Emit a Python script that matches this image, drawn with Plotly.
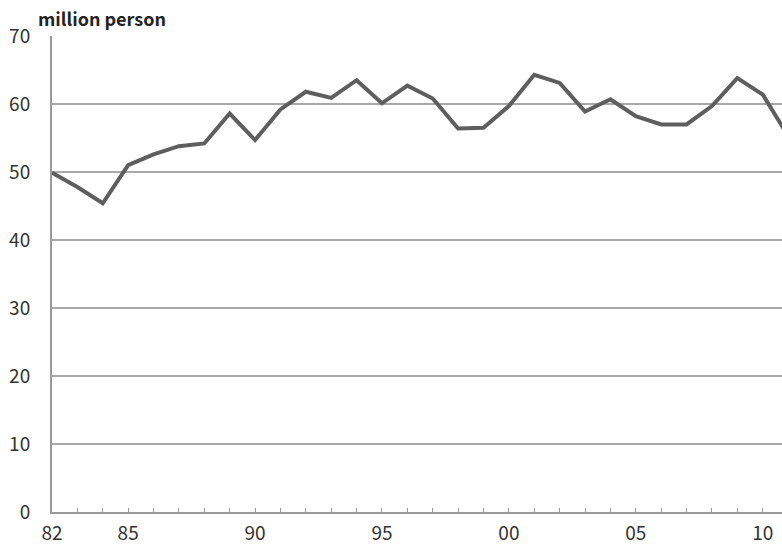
import plotly.graph_objects as go

years = list(range(1982, 2012))
values = [49.9, 47.8, 45.4, 51.0, 52.6, 53.8, 54.2, 58.6, 54.7, 59.2,
          61.8, 60.9, 63.5, 60.1, 62.7, 60.8, 56.4, 56.5, 59.7, 64.3,
          63.1, 58.9, 60.7, 58.2, 57.0, 57.0, 59.7, 63.8, 61.4, 55.3]
tick_years = [1982, 1985, 1990, 1995, 2000, 2005, 2010]
tick_labels = ["82", "85", "90", "95", "00", "05", "10"]
y_ticks = [0, 10, 20, 30, 40, 50, 60, 70]

font_family = "Noto Sans CJK JP, Noto Sans, sans-serif"

fig = go.Figure()
fig.add_trace(go.Scatter(
    x=years, y=values, mode="lines",
    line=dict(color="#5e5e5e", width=4),
    hoverinfo="skip",
))

fig.update_layout(
    width=782, height=545,
    margin=dict(l=52, r=0, t=36, b=33, autoexpand=False),
    paper_bgcolor="white", plot_bgcolor="white",
    showlegend=False,
    font=dict(family=font_family, color="#333333", size=19),
    title=dict(text="million person", x=38/782, xanchor="left",
               xref="container", y=1-20/545, yanchor="middle", yref="container",
               font=dict(family=font_family, size=18, color="#222222", weight=600)),
    xaxis=dict(
        range=[1982, 2010.76], automargin=False,
        tickvals=tick_years, ticktext=tick_labels,
        ticks="inside", ticklen=4, tickcolor="#9a9a9a", tickwidth=1,
        minor=dict(dtick=1, tick0=1982, ticks="inside", ticklen=4,
                   tickcolor="#9a9a9a", tickwidth=1, showgrid=False),
        showgrid=False, zeroline=False,
        showline=True, linecolor="#9a9a9a", linewidth=2,
        ticklabelstandoff=3,
        tickfont=dict(size=19, color="#333333"),
    ),
    yaxis=dict(
        range=[0, 70], tickvals=y_ticks, automargin=False,
        showgrid=True, gridcolor="#a8a8a8", gridwidth=1.5,
        zeroline=False, showline=True, linecolor="#9a9a9a", linewidth=2,
        ticks="", ticklabelstandoff=16,
        tickfont=dict(size=19, color="#333333"),
    ),
)

fig.write_html("out.html", config={"displayModeBar": False},
               post_script="document.body.style.margin='0';document.body.style.overflow='hidden';")
